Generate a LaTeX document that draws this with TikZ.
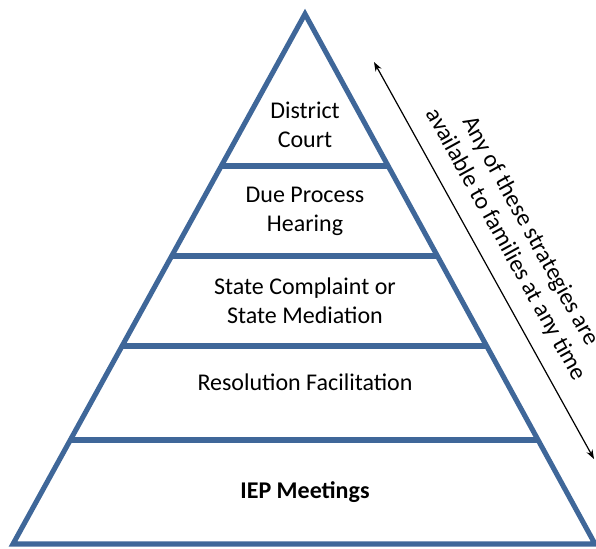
\documentclass[tikz,border=0pt]{standalone}
\usepackage{fontspec}
\setmainfont{Carlito}
\usetikzlibrary{calc,arrows.meta}
\definecolor{pyrblue}{RGB}{63,103,153}
\begin{document}
\begin{tikzpicture}[x=0.75pt,y=-0.75pt,
  pyr/.style={draw=pyrblue,line width=3.8pt,line join=miter},
  lbl/.style={align=center,font=\fontsize{18pt}{21.75pt}\selectfont,inner sep=0pt},
  note/.style={align=center,font=\fontsize{18pt}{21pt}\selectfont,inner sep=0pt},
  dblarrow/.style={{Stealth[length=7pt,width=5pt]}-{Stealth[length=7pt,width=5pt]},line width=0.9pt,black}]
\useasboundingbox (0,0) rectangle (596,549);
\coordinate (apex) at (305,14);
\coordinate (bl) at (13,544);
\coordinate (br) at (595,544);
\draw[pyr] (apex) -- (bl) -- (br) -- cycle;
\foreach \t in {0.2868,0.4566,0.6264,0.8038}{
  \draw[pyr] ($(apex)!\t!(bl)$) -- ($(apex)!\t!(br)$);
}
\node[lbl] (court) at (305,125) {District\\Court};
\node[lbl] (dueproc) at (305,211) {Due Process\\Hearing};
\node[lbl] (state) at (305,301) {State Complaint or\\State Mediation};
\node[lbl] (resol) at (305,382) {Resolution Facilitation};
\node[lbl] (iep) at (305,492) {\textbf{IEP Meetings}};
\coordinate (a1) at (374,62);
\coordinate (a2) at (594,459);
\draw[dblarrow] (a1) -- (a2);
\node[note,rotate=-61.1] (avail) at (518,238) {Any of these strategies are\\available to families at any time};
\end{tikzpicture}
\end{document}
